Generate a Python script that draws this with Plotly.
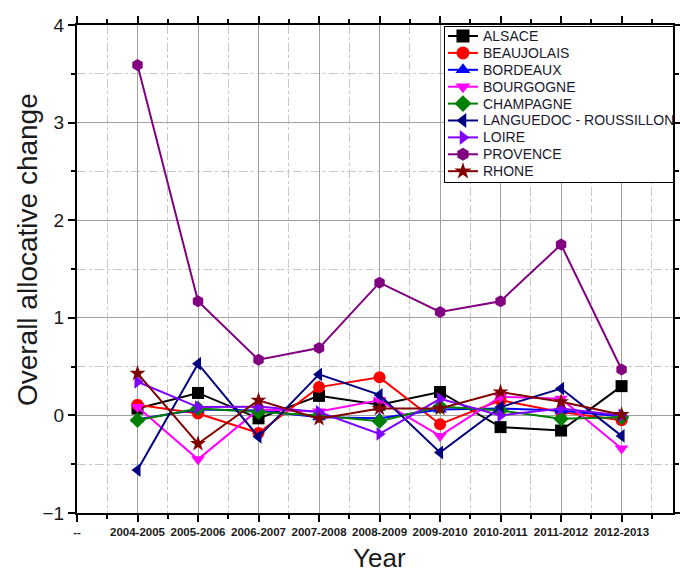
import plotly.graph_objects as go

# Fiscal-year periods on the x axis; "--" marks the empty slot before the first period
periods = ["2004-2005", "2005-2006", "2006-2007", "2007-2008", "2008-2009",
           "2009-2010", "2010-2011", "2011-2012", "2012-2013"]
lead_label = "--"

alsace = [0.07, 0.23, -0.03, 0.20, 0.11, 0.24, -0.12, -0.155, 0.30]
beaujolais = [0.11, 0.02, -0.18, 0.29, 0.39, -0.09, 0.155, 0.035, -0.05]
bordeaux = [-0.04, 0.06, 0.05, -0.02, -0.03, 0.06, 0.07, 0.05, -0.01]
bourgogne = [0.085, -0.45, 0.06, 0.04, 0.155, -0.21, 0.19, 0.17, -0.34]
champagne = [-0.05, 0.07, 0.035, 0.0, -0.06, 0.09, 0.05, -0.035, -0.02]
languedoc = [-0.56, 0.53, -0.22, 0.42, 0.21, -0.38, 0.085, 0.275, -0.21]
loire = [0.345, 0.085, 0.09, 0.035, -0.19, 0.17, 0.0, 0.07, 0.0]
provence = [3.59, 1.17, 0.57, 0.69, 1.36, 1.06, 1.17, 1.75, 0.47]
rhone = [0.43, -0.29, 0.155, -0.035, 0.07, 0.07, 0.24, 0.14, 0.007]

series = [
    ("ALSACE", alsace, "#000000", "square"),
    ("BEAUJOLAIS", beaujolais, "#FF0000", "circle"),
    ("BORDEAUX", bordeaux, "#0000FF", "triangle-up"),
    ("BOURGOGNE", bourgogne, "#FF00FF", "triangle-down"),
    ("CHAMPAGNE", champagne, "#008000", "diamond"),
    ("LANGUEDOC - ROUSSILLON", languedoc, "#000080", "triangle-left"),
    ("LOIRE", loire, "#8000FF", "triangle-right"),
    ("PROVENCE", provence, "#800080", "hexagon"),
    ("RHONE", rhone, "#800000", "star"),
]

x_pos = list(range(len(periods)))

fig = go.Figure()
for name, vals, color, symbol in series:
    fig.add_trace(go.Scatter(
        x=x_pos, y=vals, name=name, mode="lines+markers",
        line=dict(color=color, width=2),
        marker=dict(symbol=symbol, size=12, color=color, line=dict(width=0)),
        showlegend=False,
    ))

# Compact boxed key drawn as an inset panel (row pitch tighter than the
# built-in legend allows). Inset axes use a 228 x 155 unit box.
key_w, key_h = 228, 155
row_top, row_pitch = 146, 16.9
for i, (name, vals, color, symbol) in enumerate(series):
    yk = row_top - i * row_pitch
    fig.add_trace(go.Scatter(
        x=[3, 33], y=[yk, yk], mode="lines", xaxis="x2", yaxis="y2",
        line=dict(color=color, width=2), showlegend=False, hoverinfo="skip",
    ))
    fig.add_trace(go.Scatter(
        x=[18], y=[yk], mode="markers", xaxis="x2", yaxis="y2",
        marker=dict(symbol=symbol, size=13, color=color, line=dict(width=0)),
        showlegend=False, hoverinfo="skip", cliponaxis=False,
    ))
    fig.add_annotation(
        x=36, y=yk, xref="x2", yref="y2", text=name, showarrow=False,
        xanchor="left", yanchor="middle",
        font=dict(size=14, color="#1a1a2e"),
    )

# Axis titles placed as annotations for exact positioning
fig.add_annotation(
    x=-0.082, y=0.539, xref="paper", yref="paper",
    text="Overall allocative change", textangle=-90, showarrow=False,
    xanchor="center", yanchor="middle",
    font=dict(size=28, color="#1a1a1a"),
)
fig.add_annotation(
    x=0.508, y=-0.092, xref="paper", yref="paper",
    text="Year", showarrow=False,
    xanchor="center", yanchor="middle",
    font=dict(size=26, color="#1a1a1a"),
)

minor_style = dict(dtick=0.5, tick0=-0.5, ticks="outside", ticklen=4, tickwidth=2,
                   tickcolor="#000000", showgrid=True, gridcolor="#c8c8c8",
                   griddash="dashdot", gridwidth=1)

fig.update_layout(
    width=680, height=573,
    margin=dict(l=77, r=7, t=25, b=60),
    paper_bgcolor="white", plot_bgcolor="white",
    font=dict(family="Arial, Liberation Sans, sans-serif", color="#000000"),
    showlegend=False,
    xaxis=dict(
        range=[-1, 8.85],
        tickvals=[-1] + x_pos,
        ticktext=[lead_label] + periods,
        tickfont=dict(size=11.5, weight="bold", color="#1a1a1a"),
        tickangle=0,
        ticks="outside", ticklen=7, tickwidth=2, tickcolor="#000000",
        showline=True, linecolor="#000000", linewidth=2, mirror="ticks",
        showgrid=True, gridcolor="#a0a0a0", gridwidth=1,
        zeroline=False, automargin=False,
        minor=minor_style,
    ),
    yaxis=dict(
        range=[-1, 4],
        tickvals=[-1, 0, 1, 2, 3, 4],
        tickfont=dict(size=19, color="#1a1a1a"),
        ticks="outside", ticklen=7, tickwidth=2, tickcolor="#000000",
        showline=True, linecolor="#000000", linewidth=2, mirror="ticks",
        showgrid=True, gridcolor="#a0a0a0", gridwidth=1,
        zeroline=False, automargin=False,
        minor=minor_style,
    ),
    xaxis2=dict(domain=[0.6174, 1.0], anchor="y2", range=[0, key_w],
                showgrid=False, zeroline=False, showticklabels=False,
                showline=True, mirror=True, linecolor="#000000", linewidth=1,
                fixedrange=True, automargin=False),
    yaxis2=dict(domain=[0.6783, 0.9959], anchor="x2", range=[0, key_h],
                showgrid=False, zeroline=False, showticklabels=False,
                showline=True, mirror=True, linecolor="#000000", linewidth=1,
                fixedrange=True, automargin=False),
)

fig.write_html("out.html")
